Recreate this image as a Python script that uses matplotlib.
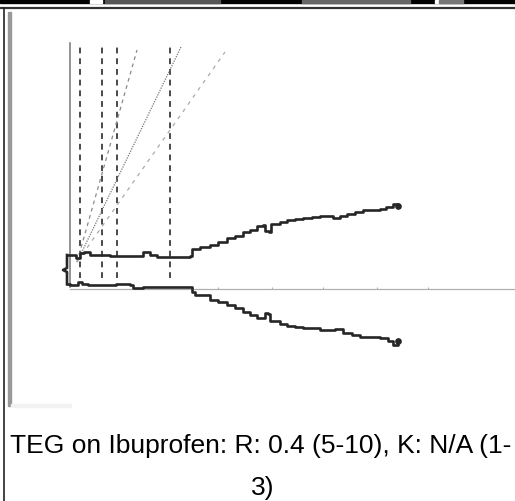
import matplotlib.pyplot as plt
from matplotlib.patches import Rectangle

plt.rcParams["font.family"] = ["Liberation Sans", "DejaVu Sans"]

# TEG trace (time in min, amplitude in mm)
upper_t = [-0.6, 0, 1.2, 2, 2.8, 4, 7.4, 8, 14, 14.6, 15.4, 16, 17.4, 23.4, 24, 24.4,
           26, 28, 29.6, 31.4, 33, 34.6, 36, 37.4, 38.6, 39, 39.8, 40.2, 42, 43.4,
           45, 46.6, 48.4, 50, 51.6, 52.6, 54, 55.4, 57, 58.6, 62, 63.2, 64.6, 65.6]
upper_mm = [7.5, 7.5, 6, 8.5, 9, 7.5, 7.5, 7, 7, 9, 9, 7.5, 6.5, 6.5, 7, 10.5,
            11.5, 12.5, 14, 16, 17, 19, 20, 22, 22.5, 19.5, 19, 23, 24, 25,
            25.5, 26, 26.5, 27, 27, 26, 27, 28, 29, 30, 30.5, 31.5, 33, 32]
lower_t = [-0.6, 0, 1, 1.6, 2.4, 3.6, 7.4, 9.2, 12, 12.6, 14, 14.6, 23.6, 24.4, 25,
           28, 29.6, 31.4, 33, 34.6, 36, 37.4, 38.6, 39, 39.6, 40, 42, 43.4, 45,
           46.6, 50, 52, 53, 54.6, 56.4, 58, 62, 63.6, 64.6, 65.6]
lower_mm = [-7, -7.5, -7.5, -6, -7, -7.5, -7.5, -7, -7.5, -9, -9, -8.5, -8.5, -11, -12.5,
            -15, -16, -17.5, -19, -21, -22.5, -24, -24, -21.5, -22, -25.5, -27, -28, -28.5,
            -29, -30, -30, -29.5, -31.5, -32.5, -33.5, -34, -35.5, -37.5, -35.5]
start_t = [-0.6, -0.6, -1.4, -0.6, -0.6]
start_mm = [7.5, 1, 0, -1, -7]

# markers on the chart
cursor_t = [2, 6.4, 9.4, 20]
tick_t = [29.6, 40.4, 50.6, 61.4, 71.6]
slope_end_t = [13.4, 22.2, 31]
slope_end_mm = [110, 111.5, 109]
slope_start = (1.4, 4)

caption = "TEG on Ibuprofen: R: 0.4 (5-10), K: N/A (1-\n3)"

fig = plt.figure(figsize=(5.15, 5.01), dpi=100)

# frame of the scanned picture (pixel space)
bg = fig.add_axes([0, 0, 1, 1])
bg.set_xlim(0, 515)
bg.set_ylim(501, 0)
bg.axis("off")
bg.add_patch(Rectangle((0, 0), 515, 3, color="black"))
for x0, w, c in [(90, 12, "white"), (105, 115, "#555555"), (302, 108, "#666666"),
                 (435, 4, "white"), (439, 24, "#777777")]:
    bg.add_patch(Rectangle((x0, 0), w, 3, color=c))
bg.plot([0, 515], [8, 8], color="#333333", lw=1.6)
bg.plot([3.5, 3.5], [8, 501], color="#222222", lw=1.2)
bg.add_patch(Rectangle((8, 12), 2.5, 394, color="#999999"))
bg.add_patch(Rectangle((10.5, 404), 60, 3, color="#f2f2f2"))

# TEG tracing
ax = fig.add_axes([0, 0, 1, 1])
ax.set_xlim(-14, 89)
ax.set_ylim(-115.5, 135)
ax.axis("off")

ax.plot([0, 0], [113.5, -8.5], color="#777777", lw=1.1)
ax.plot([0, 89], [-9.5, -9.5], color="#b0b0b0", lw=0.9)
ax.vlines(tick_t, -9.5, -8.3, color="#b0b0b0", lw=0.8)
ax.vlines(cursor_t, -4, 113.5, color="#4a4a4a", lw=1.4, linestyles=(0, (3, 2.5)))

styles = [((0, (3, 3)), "#8a8a8a"), ((0, (1, 1)), "#777777"), ((0, (3, 4)), "#aaaaaa")]
for te, me, (ls, c) in zip(slope_end_t, slope_end_mm, styles):
    ax.plot([slope_start[0], te], [slope_start[1], me], color=c, lw=0.9, ls=ls)

ax.plot(upper_t, upper_mm, color="#262626", lw=1.9, drawstyle="steps-post")
ax.plot(lower_t, lower_mm, color="#262626", lw=1.9, drawstyle="steps-post")
ax.plot(start_t, start_mm, color="#262626", lw=1.9)
ax.plot([upper_t[-1], lower_t[-1]], [upper_mm[-1], lower_mm[-1]], "o",
        color="#262626", ms=3.8, ls="none")

# caption
line1, line2 = caption.split("\n")
fig.text(10 / 515, 1 - 453 / 501, line1, fontsize=19.0, ha="left", va="baseline")
fig.text(263 / 515, 1 - 495 / 501, line2, fontsize=19.0, ha="center", va="baseline")

fig.savefig("out.png", dpi=100)
